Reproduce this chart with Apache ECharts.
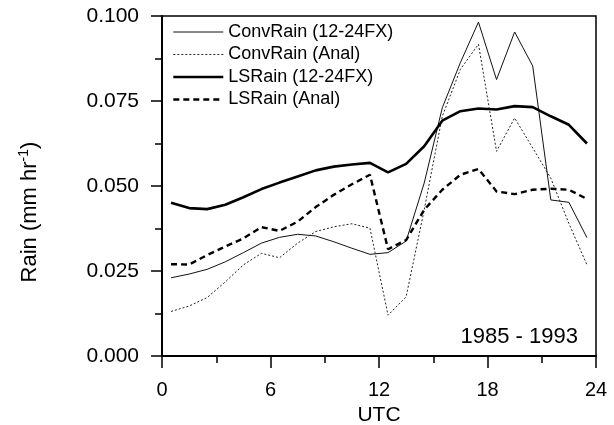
<!DOCTYPE html>
<html>
<head>
<meta charset="utf-8">
<script src="https://cdn.jsdelivr.net/npm/echarts@6/dist/echarts.min.js"></script>
<style>
  html, body { margin: 0; padding: 0; background: #fff; }
  #chart { width: 614px; height: 425px; }
</style>
</head>
<body>
<div id="chart"></div>
<script>
// Hour of day (UTC), mid-hour bins
const hours = [0.5, 1.5, 2.5, 3.5, 4.5, 5.5, 6.5, 7.5, 8.5, 9.5, 10.5, 11.5,
               12.5, 13.5, 14.5, 15.5, 16.5, 17.5, 18.5, 19.5, 20.5, 21.5, 22.5, 23.5];

// Mean rain rate (mm/hr)
const convRainFx = [0.0230, 0.0241, 0.0255, 0.0277, 0.0304, 0.0332, 0.0349, 0.0358, 0.0353, 0.0336, 0.0317, 0.0299,
                    0.0304, 0.0338, 0.0509, 0.0730, 0.0863, 0.0982, 0.0813, 0.0953, 0.0853, 0.0459, 0.0452, 0.0348];
const convRainAnal = [0.0131, 0.0147, 0.0172, 0.0218, 0.0268, 0.0302, 0.0289, 0.0332, 0.0366, 0.0380, 0.0389, 0.0376,
                      0.0120, 0.0174, 0.0430, 0.0705, 0.0843, 0.0917, 0.0602, 0.0700, 0.0612, 0.0523, 0.0390, 0.0268];
const lsRainFx = [0.0451, 0.0435, 0.0432, 0.0445, 0.0467, 0.0491, 0.0510, 0.0528, 0.0546, 0.0557, 0.0563, 0.0568,
                  0.0540, 0.0565, 0.0617, 0.0692, 0.0720, 0.0728, 0.0725, 0.0735, 0.0732, 0.0705, 0.0680, 0.0625];
const lsRainAnal = [0.0270, 0.0269, 0.0297, 0.0322, 0.0346, 0.0379, 0.0368, 0.0395, 0.0438, 0.0474, 0.0505, 0.0533,
                    0.0314, 0.0341, 0.0430, 0.0489, 0.0533, 0.0550, 0.0484, 0.0476, 0.0489, 0.0492, 0.0489, 0.0462];

const seriesNames = ['ConvRain (12-24FX)', 'ConvRain (Anal)', 'LSRain (12-24FX)', 'LSRain (Anal)'];
const periodLabel = '1985 - 1993';

const FONT = '"Liberation Sans", Arial, sans-serif';
const pairs = vals => hours.map((h, i) => [h, vals[i]]);

// Line styles per series: [width, dash, colour]
const styles = [
  [1, 'solid', '#111'],
  [1, [2, 2], '#222'],
  [2.6, 'solid', '#000'],
  [2.4, [6, 4], '#000']
];
const seriesValues = [convRainFx, convRainAnal, lsRainFx, lsRainAnal];

const chart = echarts.init(document.getElementById('chart'), null, { renderer: 'canvas' });

chart.setOption({
  animation: false,
  backgroundColor: '#fff',
  textStyle: { fontFamily: FONT, color: '#000' },
  grid: {
    left: 162, right: 18, top: 16, bottom: 69,
    containLabel: false,
    outerBoundsMode: 'none',
    show: true, borderColor: '#000', borderWidth: 1.5, backgroundColor: 'transparent'
  },
  legend: {
    orient: 'vertical',
    left: 172,
    top: 23,
    itemWidth: 50,
    itemHeight: 14,
    itemGap: 4.5,
    padding: 0,
    itemStyle: { opacity: 0 },
    textStyle: { fontFamily: FONT, fontSize: 18, color: '#000' },
    data: seriesNames.map((n, i) => ({
      name: n,
      lineStyle: { width: styles[i][0], type: styles[i][1], color: styles[i][2] }
    }))
  },
  title: {
    text: periodLabel,
    right: 36,
    bottom: 77,
    padding: 0,
    textStyle: { fontFamily: FONT, fontSize: 22, fontWeight: 'normal', color: '#000' }
  },
  xAxis: {
    type: 'value',
    min: 0,
    max: 24,
    interval: 6,
    name: 'UTC',
    nameLocation: 'middle',
    nameGap: 38,
    nameTextStyle: { fontFamily: FONT, fontSize: 21, color: '#000' },
    axisLine: { show: true, lineStyle: { color: '#000', width: 2 } },
    axisTick: { show: true, inside: false, length: 12, lineStyle: { color: '#000', width: 1.5 } },
    minorTick: { show: true, splitNumber: 2, length: 7, lineStyle: { color: '#000', width: 1.5 } },
    axisLabel: { fontFamily: FONT, fontSize: 20, color: '#000', margin: 24 },
    splitLine: { show: false }
  },
  yAxis: {
    type: 'value',
    min: 0,
    max: 0.1,
    interval: 0.025,
    name: 'Rain (mm hr{sup|-1})',
    nameLocation: 'middle',
    nameRotate: 90,
    nameGap: 120,
    nameTextStyle: {
      fontFamily: FONT, fontSize: 22, color: '#000',
      padding: [0, 52, 0, 0],
      rich: { sup: { fontFamily: FONT, fontSize: 14, color: '#000', verticalAlign: 'top', padding: [0, 0, 11, 0] } }
    },
    axisLine: { show: true, lineStyle: { color: '#000', width: 2 } },
    axisTick: { show: true, inside: false, length: 11, lineStyle: { color: '#000', width: 1.5 } },
    minorTick: { show: true, splitNumber: 2, length: 7, lineStyle: { color: '#000', width: 1.5 } },
    axisLabel: { fontFamily: FONT, fontSize: 21, color: '#000', margin: 23, formatter: v => v.toFixed(3) },
    splitLine: { show: false }
  },
  series: seriesNames.map((n, i) => ({
    name: n,
    type: 'line',
    data: pairs(seriesValues[i]),
    symbol: 'none',
    showSymbol: false,
    animation: false,
    lineStyle: { width: styles[i][0], type: styles[i][1], color: styles[i][2] },
    itemStyle: { color: styles[i][2] }
  }))
});
</script>
</body>
</html>
